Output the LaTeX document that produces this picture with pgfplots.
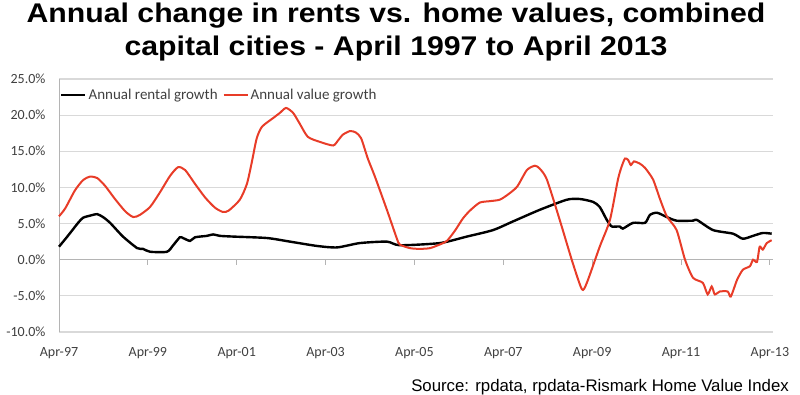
\documentclass[border=0pt]{standalone}
\usepackage{pgfplots}
\pgfplotsset{compat=1.18}
\usepackage{pgfplotstable}
\usepackage{fontspec}
\setmainfont{Carlito}
\newfontfamily\arialf{Liberation Sans}
\newfontfamily\arialw{Liberation Sans}[FakeStretch=1.12]
\definecolor{redl}{RGB}{232,60,40}
\definecolor{gridg}{RGB}{217,217,217}
\definecolor{axg}{RGB}{180,180,180}
\definecolor{txt}{RGB}{64,64,64}

\pgfplotstableread{
t v
0 6.0
0.14 7.1
0.36 9.6
0.54 11.0
0.70 11.5
0.86 11.3
1.04 10.2
1.26 8.4
1.49 6.7
1.67 5.9
1.82 6.2
2.05 7.3
2.27 9.3
2.50 11.6
2.68 12.8
2.84 12.4
3.06 10.5
3.29 8.6
3.51 7.2
3.69 6.6
3.82 6.8
4.07 8.3
4.23 10.5
4.34 13.5
4.45 16.8
4.57 18.4
4.82 19.6
4.97 20.3
5.11 21.0
5.27 20.3
5.42 18.8
5.60 17.0
5.87 16.3
6.17 15.8
6.28 16.5
6.39 17.3
6.55 17.8
6.68 17.6
6.80 16.8
6.95 14.0
7.11 11.5
7.38 6.9
7.60 3.0
7.67 2.1
7.90 1.6
8.12 1.5
8.35 1.6
8.57 2.1
8.73 2.6
8.91 4.0
9.09 5.7
9.25 6.8
9.47 7.9
9.70 8.1
9.92 8.3
10.10 9.0
10.31 10.1
10.53 12.4
10.71 13.0
10.82 12.6
10.98 11.1
11.27 5.5
11.56 -0.4
11.77 -4.1
11.88 -3.2
12.17 1.8
12.40 5.5
12.58 11.1
12.67 13.0
12.74 14.0
12.81 13.8
12.87 13.1
12.94 13.6
13.07 13.3
13.19 12.7
13.37 11.1
13.52 8.5
13.68 6.0
13.90 4.1
14.09 0.0
14.27 -2.5
14.49 -3.2
14.60 -4.8
14.69 -3.7
14.76 -4.8
14.87 -4.4
15.05 -4.4
15.12 -5.1
15.26 -2.8
15.39 -1.4
15.55 -0.9
15.62 0.0
15.71 -0.3
15.77 1.8
15.84 1.4
15.93 2.3
16.04 2.7
}\valuegrowth

\pgfplotstableread{
t v
0 1.8
0.20 3.3
0.43 5.1
0.54 5.8
0.70 6.1
0.86 6.3
0.99 5.9
1.15 5.1
1.44 3.2
1.76 1.6
1.89 1.5
2.05 1.1
2.43 1.1
2.57 2.0
2.72 3.1
2.79 3.0
2.95 2.6
3.06 3.1
3.33 3.3
3.47 3.5
3.62 3.3
3.92 3.2
4.68 3.0
5.20 2.5
5.81 1.9
6.26 1.7
6.77 2.3
7.38 2.5
7.67 2.0
8.57 2.3
9.18 3.2
9.77 4.1
10.22 5.3
10.82 6.9
11.43 8.3
11.72 8.4
12.02 8.0
12.17 7.3
12.33 5.5
12.44 4.6
12.62 4.6
12.69 4.3
12.92 5.1
13.19 5.1
13.30 6.2
13.46 6.5
13.68 5.9
13.90 5.4
14.27 5.4
14.36 5.5
14.72 4.1
15.17 3.6
15.39 2.9
15.62 3.3
15.84 3.7
16.04 3.6
}\rentalgrowth

\begin{document}
\begin{tikzpicture}
\useasboundingbox (0,0) rectangle (800pt,395pt);
\node[anchor=base, font=\arialw\bfseries\fontsize{27}{30}\selectfont] at (396pt,372pt) {Annual change in rents vs. home values, combined};
\node[anchor=base, font=\arialw\bfseries\fontsize{27}{30}\selectfont] at (396pt,339pt) {capital cities - April 1997 to April 2013};
\node[anchor=base east, inner sep=0pt, font=\arialf\fontsize{16.8}{19}\selectfont] at (789pt,3.5pt) {Source: rpdata, rpdata-Rismark Home Value Index};
\begin{axis}[
  at={(59pt,63pt)}, anchor=south west,
  scale only axis, width=714pt, height=253pt,
  xmin=0, xmax=16.07, ymin=-10, ymax=25,
  xtick={0,2,4,6,8,10,12,14,16},
  xticklabels={Apr-97,Apr-99,Apr-01,Apr-03,Apr-05,Apr-07,Apr-09,Apr-11,Apr-13},
  ytick={-10,-5,0,5,10,15,20,25},
  yticklabels={-10.0\%,-5.0\%,0.0\%,5.0\%,10.0\%,15.0\%,20.0\%,25.0\%},
  ymajorgrids, grid style={draw=gridg, line width=1.2pt},
  axis lines*=left,
  x axis line style={draw=none},
  y axis line style={draw=axg, line width=1pt},
  tick style={draw=none},
  tick label style={font=\fontsize{14}{16}\selectfont, text=txt},
  yticklabel shift=10pt,
  xticklabel shift=12pt,
  legend columns=2,
  legend style={draw=none, fill=none, at={(0.0015,0.937)}, anchor=west,
    font=\fontsize{15}{17}\selectfont, text=txt, inner sep=0pt,
    /tikz/every even column/.append style={column sep=3pt}},
  legend image code/.code={\draw[#1] (0pt,0pt) -- (24pt,0pt);},
  legend cell align=left,
  clip=false,
]
\draw[axg, line width=1pt] (axis cs:0,0) -- (axis cs:16.07,0);
\pgfplotsinvokeforeach{2,4,6,8,10,12,14,16}{\draw[axg, line width=1pt] (axis cs:#1,0) -- ([yshift=-5pt]axis cs:#1,0);}
\addplot[black, line width=2.4pt, smooth, tension=0.4] table[x=t,y=v] {\rentalgrowth};
\addlegendentry{Annual rental growth}
\addplot[redl, line width=2pt, smooth, tension=0.4] table[x=t,y=v] {\valuegrowth};
\addlegendentry{Annual value growth}
\end{axis}
\end{tikzpicture}
\end{document}
